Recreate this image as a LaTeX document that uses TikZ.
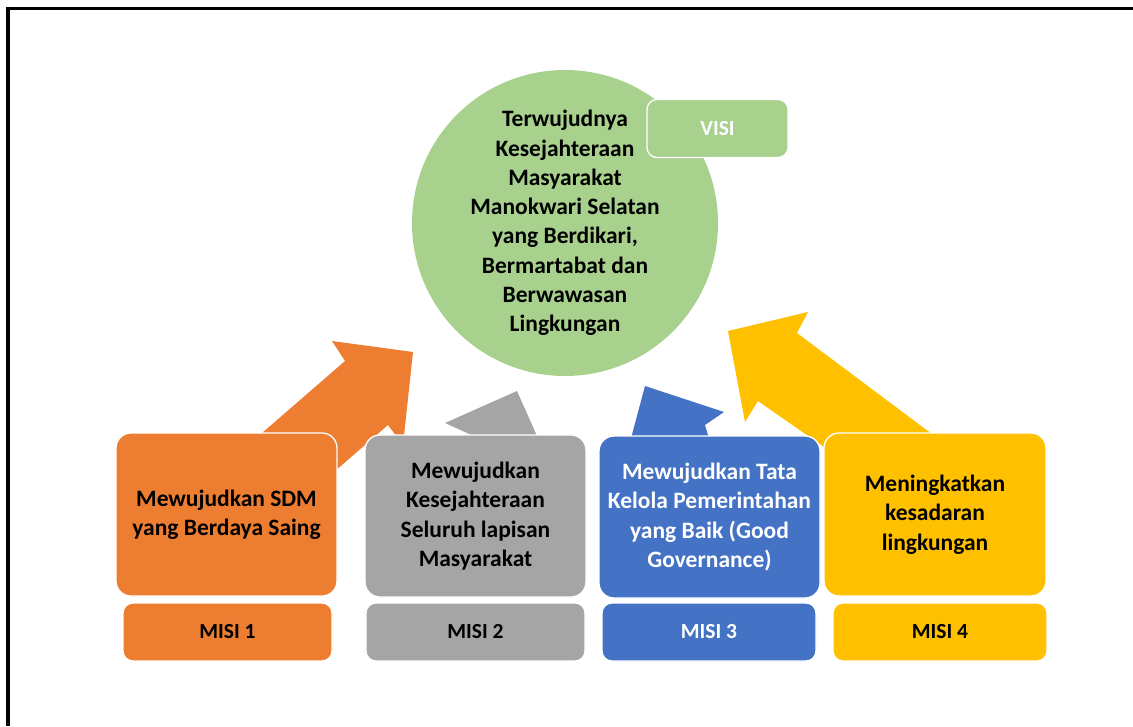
\documentclass[tikz,border=0pt]{standalone}
\usepackage{fontspec}
\setmainfont{Carlito}
\definecolor{morange}{HTML}{ED7D31}
\definecolor{mgray}{HTML}{A5A5A5}
\definecolor{mblue}{HTML}{4472C4}
\definecolor{myellow}{HTML}{FFC000}
\definecolor{mgreen}{HTML}{A9D18E}
\begin{document}
\begin{tikzpicture}[x=1pt,y=-1pt,
  bigbox/.style={draw=white,line width=1.3pt,rounded corners=15pt,inner sep=0pt,
    minimum width=221pt,minimum height=162pt,align=center,
    font=\fontsize{23.5}{29.3}\selectfont\bfseries},
  labelbox/.style={draw=white,line width=1.3pt,rounded corners=10pt,inner sep=0pt,
    minimum height=58pt,align=center,font=\fontsize{21.5}{25}\selectfont\bfseries},
  blockarrow/.style={draw=none}]
\useasboundingbox (0,0) rectangle (1133,726);
% frame
\draw[line width=3.4pt,line join=miter] (8,726) -- (8,8.3) -- (1133,8.3);
% block arrows (drawn behind the boxes)
\fill[morange,blockarrow] (413,352) -- (403,445) -- (388,425) -- (267,530) -- (224,466) -- (345,361) -- (332,341) -- cycle;
\fill[mgray,blockarrow] (445,423) -- (517,391) -- (541,445) -- (478,438) -- cycle;
\fill[mblue,blockarrow] (645,386) -- (724,412) -- (705,425) -- (710,442) -- (630,442) -- cycle;
\fill[myellow,blockarrow] (728,331) -- (808,312) -- (797,333) -- (980,470) -- (890,493) -- (758,401) -- (745,422) -- cycle;
% vision circle
\node[circle,fill=mgreen,minimum size=306pt,inner sep=0pt,align=center,
  font=\fontsize{23.5}{29.3}\selectfont\bfseries] (visi) at (565,223)
  {Terwujudnya\\Kesejahteraan\\Masyarakat\\Manokwari Selatan\\yang Berdikari,\\Bermartabat dan\\Berwawasan\\Lingkungan};
\node[labelbox,fill=mgreen,text=white,minimum width=141pt] (visilabel) at (717.5,128.5) {VISI};
% mission boxes
\node[bigbox,fill=morange,minimum height=163pt] (m1) at (226.5,514.5) {Mewujudkan SDM\\yang Berdaya Saing};
\node[bigbox,fill=mgray] (m2) at (475.5,516) {Mewujudkan\\Kesejahteraan\\Seluruh lapisan\\Masyarakat};
\node[bigbox,fill=mblue,text=white] (m3) at (709.5,517) {Mewujudkan Tata\\Kelola Pemerintahan\\yang Baik (Good\\Governance)};
\node[bigbox,fill=myellow,minimum width=222pt,minimum height=163pt] (m4) at (935,514.5) {Meningkatkan\\kesadaran\\lingkungan};
% mission labels
\node[labelbox,fill=morange,minimum width=209pt] (l1) at (227.5,632) {MISI 1};
\node[labelbox,fill=mgray,minimum width=219pt] (l2) at (475.5,632) {MISI 2};
\node[labelbox,fill=mblue,text=white,minimum width=214pt] (l3) at (709,632) {MISI 3};
\node[labelbox,fill=myellow,minimum width=214pt] (l4) at (940,632) {MISI 4};
\end{tikzpicture}
\end{document}
